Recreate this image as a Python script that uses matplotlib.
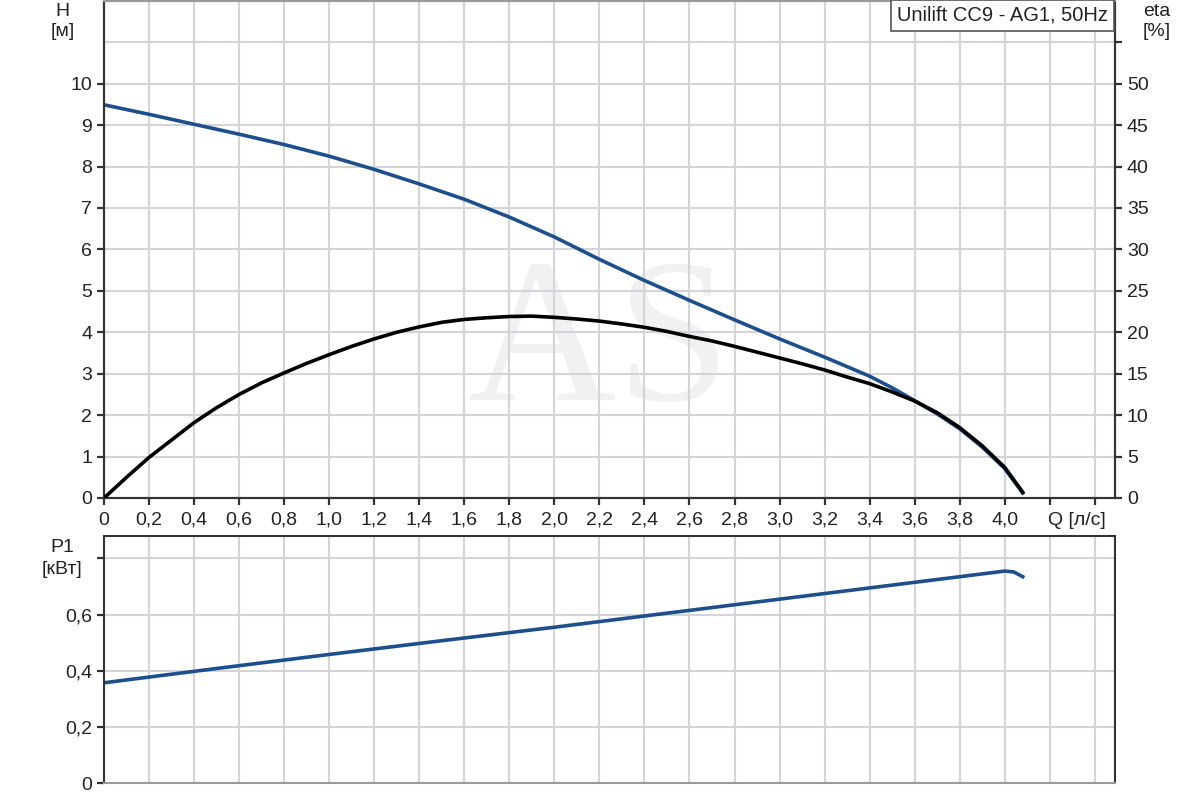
import numpy as np
import matplotlib
matplotlib.use("Agg")
import matplotlib.pyplot as plt

plt.rcParams["font.family"] = ["Liberation Sans", "DejaVu Sans"]

# Q-H curve [l/s, m]
q_h = [0, 0.2, 0.4, 0.6, 0.8, 1.0, 1.2, 1.4, 1.6, 1.8, 2.0, 2.2, 2.4, 2.6, 2.8,
       3.0, 3.2, 3.4, 3.5, 3.6, 3.7, 3.8, 3.9, 4.0, 4.08]
h = [9.49, 9.26, 9.02, 8.78, 8.53, 8.25, 7.93, 7.58, 7.21, 6.78, 6.30, 5.76,
     5.25, 4.77, 4.30, 3.84, 3.40, 2.94, 2.66, 2.35, 2.03, 1.67, 1.23, 0.71, 0.12]

# efficiency curve [l/s, %]
q_eta = [0, 0.1, 0.2, 0.3, 0.4, 0.5, 0.6, 0.7, 0.8, 0.9, 1.0, 1.1, 1.2, 1.3,
         1.4, 1.5, 1.6, 1.7, 1.8, 1.9, 2.0, 2.1, 2.2, 2.3, 2.4, 2.5, 2.6, 2.7,
         2.8, 2.9, 3.0, 3.1, 3.2, 3.3, 3.4, 3.5, 3.6, 3.7, 3.8, 3.9, 4.0, 4.08]
eta = [0, 2.5, 4.9, 7.0, 9.1, 10.9, 12.5, 13.9, 15.1, 16.25, 17.3, 18.3, 19.2,
       20.0, 20.65, 21.2, 21.55, 21.75, 21.9, 21.95, 21.8, 21.6, 21.35, 21.0,
       20.6, 20.1, 19.5, 18.95, 18.3, 17.6, 16.9, 16.2, 15.45, 14.6, 13.8, 12.8,
       11.7, 10.3, 8.5, 6.3, 3.7, 0.7]

# power input P1 [l/s, kW]
q_p = [0, 0.5, 1.0, 1.5, 2.0, 2.5, 3.0, 3.5, 4.0, 4.04, 4.08]
p1 = [0.357, 0.408, 0.458, 0.507, 0.555, 0.605, 0.655, 0.705, 0.755, 0.752, 0.735]

x_ticks = [round(0.2 * i, 1) for i in range(23)]
x_labels = ["0"] + [f"{v:.1f}".replace(".", ",") for v in x_ticks[1:21]] + ["", ""]

blue = "#1c4f8c"
grid_c = "#d4d4d8"
spine_c = "#333333"
txt_c = "#222222"
fs = 14

fig = plt.figure(figsize=(12, 8), dpi=100)
ax = fig.add_axes([0.0867, 0.3775, 0.8425, 0.6215])
ax2 = ax.twinx()
axp = fig.add_axes([0.0867, 0.02125, 0.8425, 0.30875])

# watermark
ax.text(2.2, 3.55, "AS", fontsize=148, family="Liberation Serif",
        color="#f1f1f1", ha="center", va="center", zorder=0)

ax.plot(q_h, h, color=blue, lw=2.6, zorder=3)
ax2.plot(q_eta, eta, color="black", lw=2.6, zorder=4)
axp.plot(q_p, p1, color=blue, lw=2.6)

ax.set_xlim(0, 4.49)
ax.set_ylim(0, 12)
ax2.set_ylim(0, 60)
axp.set_xlim(0, 4.49)
axp.set_ylim(0, 0.88)

ax.set_xticks(x_ticks)
ax.set_xticklabels(x_labels)
ax.set_yticks(range(12))
ax.set_yticklabels([str(i) for i in range(11)] + [""])
ax2.set_yticks(range(0, 60, 5))
ax2.set_yticklabels([str(i) for i in range(0, 55, 5)] + [""])
axp.set_xticks(x_ticks)
axp.set_xticklabels([])
axp.set_yticks([0, 0.2, 0.4, 0.6, 0.8])
axp.set_yticklabels(["0", "0,2", "0,4", "0,6", ""])

for a in (ax, axp):
    a.grid(True, color=grid_c, lw=1.5)
    a.set_axisbelow(True)
    a.tick_params(axis="both", labelsize=fs, colors=spine_c, length=5,
                  width=1.6, labelcolor=txt_c)
    for s in a.spines.values():
        s.set_color(spine_c)
        s.set_linewidth(1.5)
ax2.tick_params(axis="y", labelsize=fs, length=5, width=1.6, colors=spine_c,
                labelcolor=txt_c)
for s in ax2.spines.values():
    s.set_linewidth(1.5)
    s.set_color(spine_c)
ax.spines["top"].set_color("#999999")
ax2.spines["top"].set_color("#999999")
axp.spines["bottom"].set_color("#999999")
axp.tick_params(axis="x", length=0)
ax.tick_params(axis="x", pad=5)

# no tick mark at the unlabeled top gridline on the left, grey one on the right
ax.yaxis.get_major_ticks()[-1].tick1line.set_visible(False)
ax2.yaxis.get_major_ticks()[-1].tick2line.set_color("#aaaaaa")

ax.text(4.32, -0.55, "Q [л/с]", fontsize=fs, ha="center", va="center",
        color=txt_c)

fig.text(0.052, 0.985, "H", fontsize=fs, ha="center", va="center", color=txt_c)
fig.text(0.052, 0.96, "[м]", fontsize=fs, ha="center", va="center", color=txt_c)
fig.text(0.964, 0.985, "eta", fontsize=fs, ha="center", va="center", color=txt_c)
fig.text(0.964, 0.96, "[%]", fontsize=fs, ha="center", va="center", color=txt_c)
fig.text(0.052, 0.316, "P1", fontsize=fs, ha="center", va="center", color=txt_c)
fig.text(0.052, 0.288, "[кВт]", fontsize=fs, ha="center", va="center", color=txt_c)

fig.text(0.7475, 0.981, "Unilift CC9 - AG1, 50Hz", fontsize=14.5, ha="left",
         va="center", color=txt_c,
         bbox=dict(boxstyle="square,pad=0.3", fc="white", ec="#555555", lw=1.2))

fig.savefig("out.png", dpi=100)
